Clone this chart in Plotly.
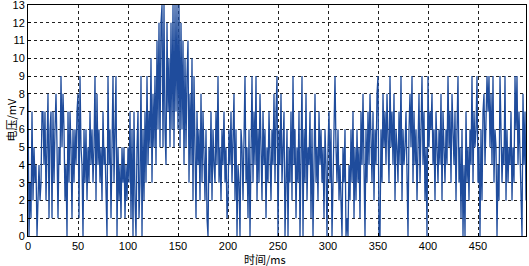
import plotly.graph_objects as go

time_ms = list(range(500))
voltage_mv = [
    8, 0, 3, 1, 7, 2, 5, 3, 4, 0,
    2, 4, 2, 3, 7, 7, 4, 7, 2, 6,
    8, 1, 6, 7, 1, 7, 3, 6, 8, 5,
    1, 5, 4, 9, 5, 8, 6, 2, 4, 0,
    7, 3, 7, 5, 1, 6, 3, 6, 4, 7,
    8, 1, 9, 5, 4, 0, 6, 3, 6, 2,
    5, 3, 7, 4, 6, 3, 5, 9, 2, 8,
    4, 6, 3, 5, 2, 7, 4, 5, 3, 0,
    9, 4, 6, 1, 5, 9, 3, 7, 9, 0,
    5, 2, 4, 1, 5, 3, 5, 1, 4, 2,
    5, 3, 7, 1, 6, 0, 7, 2, 0, 5,
    7, 1, 3, 9, 0, 6, 2, 7, 3, 9,
    4, 7, 5, 10, 3, 8, 5, 9, 4, 11,
    6, 12, 5, 12, 13, 5, 13, 6, 4, 12,
    7, 10, 5, 12, 6, 13, 5, 13, 7, 13,
    6, 13, 5, 12, 6, 11, 4, 10, 5, 9,
    11, 3, 8, 4, 10, 2, 9, 5, 1, 7,
    4, 6, 2, 8, 3, 7, 5, 2, 6, 1,
    0, 5, 3, 7, 2, 6, 4, 3, 7, 4,
    9, 3, 5, 2, 6, 4, 7, 3, 5, 1,
    2, 6, 4, 7, 3, 5, 8, 2, 6, 0,
    4, 3, 0, 6, 5, 2, 7, 9, 3, 5,
    1, 6, 0, 5, 9, 3, 7, 4, 9, 2,
    6, 3, 8, 5, 2, 7, 4, 6, 1, 5,
    3, 7, 5, 2, 6, 4, 8, 3, 7, 9,
    0, 6, 4, 8, 3, 5, 7, 0, 4, 6,
    0, 5, 3, 7, 2, 9, 4, 6, 1, 5,
    3, 7, 0, 5, 9, 0, 6, 3, 8, 2,
    5, 4, 7, 1, 6, 0, 4, 8, 3, 5,
    2, 7, 4, 6, 3, 5, 1, 6, 4, 0,
    5, 7, 3, 6, 0, 4, 8, 9, 5, 3,
    6, 2, 4, 1, 0, 5, 3, 6, 0, 1,
    0, 4, 2, 6, 3, 7, 1, 5, 2, 6,
    3, 5, 1, 7, 4, 8, 2, 0, 6, 3,
    7, 4, 8, 5, 3, 7, 2, 6, 4, 8,
    9, 0, 0, 6, 3, 8, 5, 7, 4, 8,
    6, 3, 9, 5, 7, 4, 8, 2, 6, 5,
    3, 7, 4, 9, 2, 6, 4, 5, 7, 3,
    0, 6, 8, 5, 9, 3, 7, 4, 6, 2,
    5, 8, 3, 6, 9, 4, 7, 2, 5, 0,
    9, 5, 7, 6, 8, 4, 6, 2, 7, 5,
    3, 6, 4, 8, 2, 7, 5, 3, 6, 4,
    9, 5, 7, 3, 8, 6, 4, 7, 2, 6,
    9, 3, 5, 1, 6, 0, 4, 0, 7, 3,
    5, 2, 6, 4, 9, 3, 7, 5, 6, 9,
    3, 5, 0, 6, 2, 7, 8, 4, 6, 9,
    7, 9, 5, 8, 4, 9, 3, 6, 5, 0,
    4, 2, 9, 6, 3, 5, 4, 9, 2, 6,
    3, 5, 4, 7, 2, 5, 3, 9, 6, 9,
    4, 7, 5, 3, 0, 8, 4, 7, 2, 5,
]
x_tick_vals = [0, 50, 100, 150, 200, 250, 300, 350, 400, 450]
y_tick_vals = list(range(14))
x_title = "时间/ms"
y_title = "电压/mV"

fig = go.Figure()
fig.add_trace(go.Scatter(
    x=time_ms, y=voltage_mv, mode="lines",
    line=dict(color="#1f4c9c", width=1.3),
    showlegend=False, hoverinfo="skip", cliponaxis=True,
))

tick_font = dict(family="Liberation Sans, Arial, sans-serif", size=11, color="black")
axis_common = dict(
    showline=True, linecolor="black", linewidth=1, mirror=True,
    showgrid=True, gridcolor="#222222", griddash="dot", gridwidth=1,
    zeroline=False, ticks="inside", ticklen=3, tickcolor="black",
    tickfont=tick_font, automargin=False, ticklabeloverflow="allow",
)

fig.update_layout(
    width=529, height=266,
    margin=dict(l=28, r=3, t=5, b=30, autoexpand=False),
    paper_bgcolor="white", plot_bgcolor="white",
    xaxis=dict(range=[0, 498], tickvals=x_tick_vals, **axis_common),
    yaxis=dict(range=[-0.001, 13.001], tickvals=y_tick_vals, **axis_common),
    annotations=[
        dict(text=x_title, xref="paper", yref="paper", x=0.475, y=0,
             yshift=-13, xanchor="center", yanchor="top", showarrow=False,
             font=dict(family="Noto Sans CJK SC", size=11, color="black")),
        dict(text=y_title, xref="paper", yref="paper", x=0, y=0.5,
             xshift=-28, xanchor="left", yanchor="middle", textangle=-90,
             showarrow=False,
             font=dict(family="Noto Sans CJK SC", size=11, color="black")),
    ],
)

fig.write_html(
    "out.html",
    config={"displayModeBar": False, "staticPlot": True},
    post_script="document.body.style.margin='0';document.body.style.padding='0';"
                "document.documentElement.style.overflow='hidden';",
)
